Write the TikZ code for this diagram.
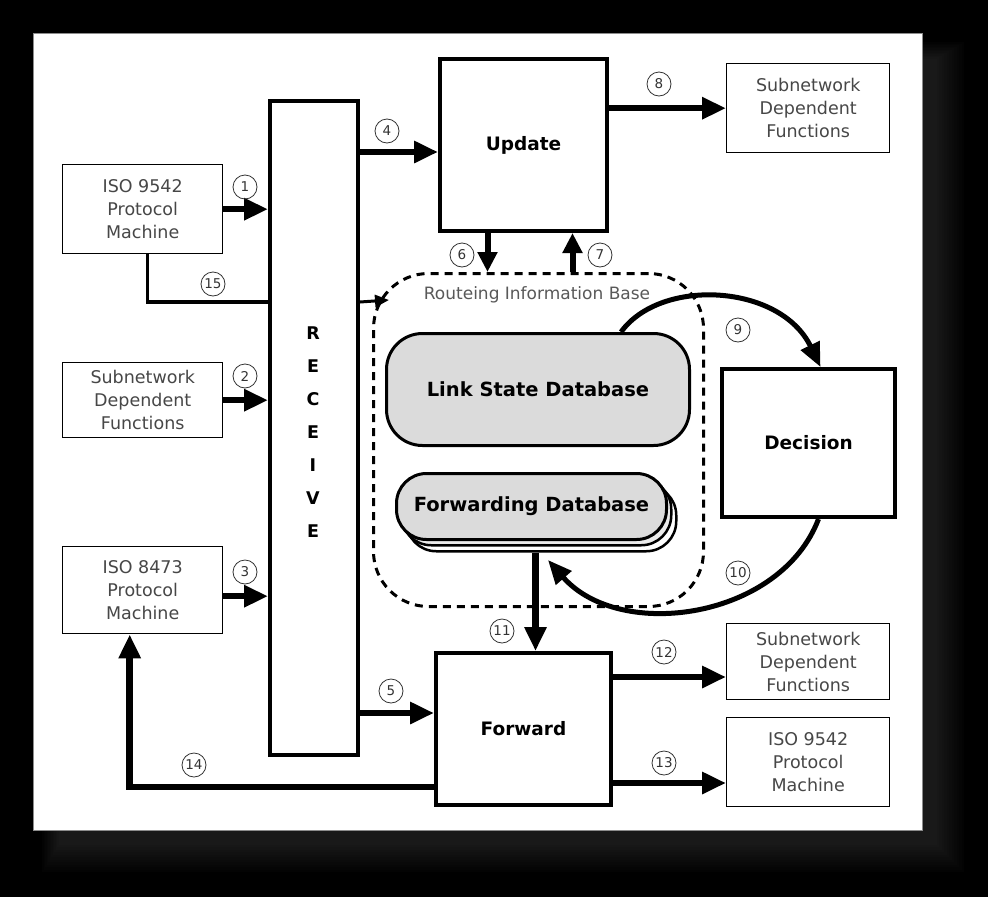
\documentclass[tikz,border=0pt]{standalone}
\usepackage{fontspec}
\setmainfont{DejaVu Sans}
\usetikzlibrary{arrows.meta}
\begin{document}
\begin{tikzpicture}[x=1pt,y=-1pt,
  gbox/.style={draw, line width=1.4pt, align=center, font=\fontsize{17.5}{23}\selectfont, text=black!72, inner sep=0pt, anchor=north west},
  tbox/.style={draw, line width=4pt, font=\bfseries\fontsize{18.5}{22}\selectfont, inner sep=0pt, anchor=north west},
  dbbox/.style={draw, line width=3pt, fill=black!14, rounded corners=30pt, font=\bfseries\fontsize{19.5}{22}\selectfont, inner sep=0pt, anchor=north west, minimum width=270pt, minimum height=66pt},
  num/.style={circle, draw=black!80, line width=0.8pt, minimum size=24pt, inner sep=0pt, font=\fontsize{13.5}{13.5}\selectfont, text=black!80},
  big/.style={line width=6.5pt, -{Triangle[length=24pt,width=21pt]}},
  mid/.style={line width=6pt, -{Triangle[length=20pt,width=19pt]}},
  curvy/.style={line width=5pt, -{Triangle[length=24pt,width=20pt]}},
]
\useasboundingbox (0,0) rectangle (988,897);
\fill[black] (0,0) rectangle (988,897);
\foreach \i in {1,...,12} {
  \fill[white, opacity=0.012] (60-1.5*\i,60-1.5*\i) rectangle (934+2.5*\i,842+2.5*\i);
}
\fill[white, draw=black!45, line width=1pt] (33,33) rectangle (922,830);

% left boxes
\node[gbox, minimum width=160pt, minimum height=89pt] (iso1) at (62,164) {ISO 9542\\Protocol\\Machine};
\node[gbox, minimum width=160pt, minimum height=75pt] (sdf2) at (62,362) {Subnetwork\\Dependent\\Functions};
\node[gbox, minimum width=160pt, minimum height=87pt] (iso3) at (62,546) {ISO 8473\\Protocol\\Machine};
% right boxes
\node[gbox, minimum width=163pt, minimum height=89pt] (sdf1) at (726,63) {Subnetwork\\Dependent\\Functions};
\node[gbox, minimum width=163pt, minimum height=76pt] (sdf3) at (726,623) {Subnetwork\\Dependent\\Functions};
\node[gbox, minimum width=163pt, minimum height=89pt] (iso4) at (726,717) {ISO 9542\\Protocol\\Machine};

% thick boxes
\node[tbox, minimum width=88pt, minimum height=654pt] (recv) at (268,99) {};
\node[align=center, font=\bfseries\fontsize{17.5}{33}\selectfont] (recvtxt) at (313,432) {R\\E\\C\\E\\I\\V\\E};
\node[tbox, minimum width=167pt, minimum height=172pt] (upd) at (438,57) {Update};
\node[tbox, minimum width=173pt, minimum height=148pt] (dec) at (720,367) {Decision};
\node[tbox, minimum width=175pt, minimum height=152pt] (fwd) at (434,651) {Forward};

% routeing information base
\node[draw, dashed, dash pattern=on 8pt off 6pt, line width=3pt, rounded corners=55pt, minimum width=330pt, minimum height=333pt, anchor=north west] (rib) at (372,272) {};
\node[font=\fontsize{17}{20}\selectfont, text=black!65] (ribtxt) at (537,295) {Routeing Information Base};
\node[dbbox, minimum width=303pt, minimum height=112pt, rounded corners=36pt] (lsdb) at (385,332) {Link State Database};
\node[dbbox, fill=white, line width=2.5pt] (fdb3) at (405,484) {};
\node[dbbox, fill=black!8, line width=2.5pt] (fdb2) at (400,478) {};
\node[dbbox] (fdb) at (395,472) {\raisebox{5pt}{Forwarding Database}};

% connectors
\draw[big] (iso1.east) -- (iso1.east -| recv.west);
\draw[big] (sdf2.east) -- (sdf2.east -| recv.west);
\coordinate (c3) at ([yshift=-6pt]iso3.east);
\draw[big] (c3) -- (c3 -| recv.west);
\coordinate (c4) at ([yshift=-7pt]upd.west);
\draw[big] (c4 -| recv.east) -- (c4);
\coordinate (c5) at ([yshift=16pt]fwd.west);
\draw[big] (c5 -| recv.east) -- (c5);
\coordinate (c6) at ([xshift=-36pt]upd.south);
\draw[mid] (c6) -- (c6 |- rib.north);
\coordinate (c7) at ([xshift=49pt]upd.south);
\draw[mid] (c7 |- rib.north) -- (c7);
\draw[big] (upd.east |- sdf1.west) -- (sdf1.west);
\coordinate (c11) at ([xshift=12pt]fwd.north);
\draw[big] (c11 |- fdb3.south) -- (c11);
\coordinate (c12) at ([yshift=52pt]fwd.east);
\draw[big] (c12) -- (c12 -| sdf3.west);
\coordinate (c13) at ([yshift=-54pt]fwd.east);
\draw[big] (c13) -- (c13 -| iso4.west);
\coordinate (c14) at ([yshift=-58pt]fwd.west);
\coordinate (c14b) at ([xshift=-13pt]iso3.south);
\draw[big] (c14) -| (c14b);
\coordinate (c15) at ([xshift=5pt]iso1.south);
\coordinate (r15) at ([yshift=126pt]recv.west);
\draw[line width=3.5pt] (c15) |- (r15);
\coordinate (r16) at ([yshift=126pt]recv.east);
\coordinate (ribin) at (389,300);
\draw[line width=3pt, -{Triangle[length=14pt,width=12pt]}] (r16) -- (ribin);
\coordinate (c9) at ([xshift=83pt]lsdb.north);
\coordinate (d9) at ([xshift=12pt]dec.north);
\draw[curvy] (c9) .. controls +(40,-55) and +(-40,-83) .. (d9);
\coordinate (d10) at ([xshift=10pt]dec.south);
\coordinate (c10) at (548,560);
\draw[curvy] (d10) .. controls +(-38,100) and +(72,82) .. (c10);

% numbers
\node[num] (n1) at (245,187) {1};
\node[num] (n2) at (245,376) {2};
\node[num] (n3) at (245,572) {3};
\node[num] (n4) at (387,131) {4};
\node[num] (n5) at (391,691) {5};
\node[num] (n6) at (462,255) {6};
\node[num] (n7) at (600,255) {7};
\node[num] (n8) at (659,84) {8};
\node[num] (n9) at (738,330) {9};
\node[num] (n10) at (738,573) {10};
\node[num] (n11) at (502,631) {11};
\node[num] (n12) at (664,652) {12};
\node[num] (n13) at (664,763) {13};
\node[num] (n14) at (194,765) {14};
\node[num] (n15) at (213,284) {15};
\end{tikzpicture}
\end{document}
